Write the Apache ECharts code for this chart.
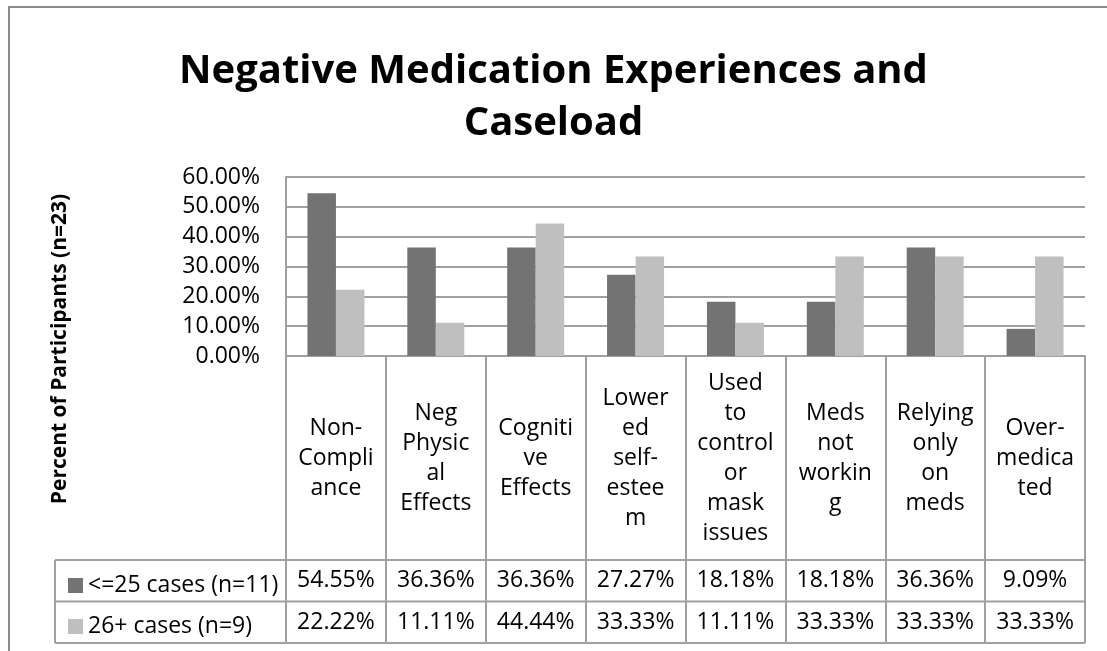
<!DOCTYPE html>
<html>
<head>
<meta charset="utf-8">
<script src="https://cdn.jsdelivr.net/npm/echarts@6/dist/echarts.min.js"></script>
<style>
  html, body { margin: 0; padding: 0; background: #fff; }
  #chart { width: 1107px; height: 651px; }
</style>
</head>
<body>
<div id="chart"></div>
<script>
// category labels, wrapped the way the data table shows them
var categories = [
  'Non-\nCompli\nance',
  'Neg\nPhysic\nal\nEffects',
  'Cogniti\nve\nEffects',
  'Lower\ned\nself-\nestee\nm',
  'Used\nto\ncontrol\nor\nmask\nissues',
  'Meds\nnot\nworkin\ng',
  'Relying\nonly\non\nmeds',
  'Over-\nmedica\nted'
];
var seriesNames = ['<=25 cases (n=11)', '26+ cases (n=9)'];
var lowCases = [0.5455, 0.3636, 0.3636, 0.2727, 0.1818, 0.1818, 0.3636, 0.0909];
var highCases = [0.2222, 0.1111, 0.4444, 0.3333, 0.1111, 0.3333, 0.3333, 0.3333];
var yTicks = [0, 0.1, 0.2, 0.3, 0.4, 0.5, 0.6];

var font = 'Open Sans';
var lineCol = '#a0a0a0';
var gridLeft = 286, gridRight = 22, gridTop = 177, gridBottomY = 356;
var headerH = 204, rowH = 41.5, legendLeft = 55;
var row1Y = gridBottomY + headerH, row2Y = row1Y + rowH, tableEnd = row2Y + rowH;

function pct(v) { return (v * 100).toFixed(2) + '%'; }

var myChart = echarts.init(document.getElementById('chart'));

var option = {
  backgroundColor: '#fff',
  animation: false,
  title: {
    text: 'Negative Medication Experiences and\nCaseload',
    left: 'center',
    top: 41,
    textStyle: { fontFamily: font, fontWeight: 'bold', fontSize: 40, lineHeight: 52, color: '#000' }
  },
  legend: {
    data: seriesNames,
    orient: 'vertical',
    left: 63,
    top: row1Y + 9,
    itemWidth: 15,
    itemHeight: 15,
    itemGap: 18,
    icon: 'rect',
    textStyle: { fontFamily: font, fontSize: 23, lineHeight: 23, color: '#000' }
  },
  grid: {
    left: gridLeft,
    right: gridRight,
    top: gridTop,
    height: gridBottomY - gridTop,
    outerBoundsMode: 'none'
  },
  xAxis: [
    {
      type: 'category',
      data: categories,
      position: 'bottom',
      axisLine: { show: true, lineStyle: { color: lineCol, width: 2 } },
      axisTick: { show: true, interval: 0, length: tableEnd - gridBottomY, lineStyle: { color: lineCol, width: 2 } },
      axisLabel: {
        interval: 0, margin: headerH / 2, verticalAlign: 'middle',
        fontFamily: font, fontSize: 23, lineHeight: 30, color: '#000', align: 'center'
      }
    },
    {
      type: 'category',
      data: categories,
      position: 'bottom',
      offset: headerH,
      axisLine: { show: false },
      axisTick: { show: false },
      axisLabel: {
        interval: 0, margin: rowH / 2, verticalAlign: 'middle',
        fontFamily: font, fontSize: 23, color: '#000',
        formatter: function (v, i) { return pct(lowCases[i]); }
      }
    },
    {
      type: 'category',
      data: categories,
      position: 'bottom',
      offset: headerH + rowH,
      axisLine: { show: false },
      axisTick: { show: false },
      axisLabel: {
        interval: 0, margin: rowH / 2, verticalAlign: 'middle',
        fontFamily: font, fontSize: 23, color: '#000',
        formatter: function (v, i) { return pct(highCases[i]); }
      }
    }
  ],
  yAxis: {
    type: 'value',
    min: yTicks[0],
    max: yTicks[yTicks.length - 1],
    interval: yTicks[1] - yTicks[0],
    axisLine: { show: true, lineStyle: { color: lineCol, width: 2 } },
    axisTick: { show: false },
    splitLine: { show: true, lineStyle: { color: lineCol, width: 2 } },
    axisLabel: {
      margin: 26, fontFamily: font, fontSize: 23, color: '#000',
      formatter: function (v) { return pct(v); }
    }
  },
  series: [
    {
      name: seriesNames[0],
      type: 'bar',
      data: lowCases,
      barWidth: 28.5,
      barGap: '0%',
      itemStyle: { color: '#737373' }
    },
    {
      name: seriesNames[1],
      type: 'bar',
      data: highCases,
      barWidth: 28.5,
      barGap: '0%',
      itemStyle: { color: '#bfbfbf' }
    }
  ],
  graphic: [
    // outer chart frame
    { type: 'rect', shape: { x: 9, y: 7, width: 1200, height: 700 }, style: { fill: 'none', stroke: '#8c8c8c', lineWidth: 2 }, silent: true },
    // data table lines
    { type: 'line', shape: { x1: legendLeft, y1: row1Y, x2: 1107 - gridRight, y2: row1Y }, style: { stroke: lineCol, lineWidth: 2 } },
    { type: 'line', shape: { x1: legendLeft, y1: row2Y, x2: 1107 - gridRight, y2: row2Y }, style: { stroke: lineCol, lineWidth: 2 } },
    { type: 'line', shape: { x1: legendLeft, y1: tableEnd, x2: 1107 - gridRight, y2: tableEnd }, style: { stroke: lineCol, lineWidth: 2 } },
    { type: 'line', shape: { x1: legendLeft, y1: row1Y, x2: legendLeft, y2: tableEnd }, style: { stroke: lineCol, lineWidth: 2 } },
    // y axis title
    {
      type: 'text',
      x: 60, y: 349,
      rotation: Math.PI / 2,
      style: {
        text: 'Percent of Participants (n=23)',
        fontFamily: font, fontSize: 21, fontWeight: 'bold', fill: '#000',
        align: 'center', verticalAlign: 'middle'
      }
    }
  ]
};

myChart.setOption(option);
</script>
</body>
</html>
